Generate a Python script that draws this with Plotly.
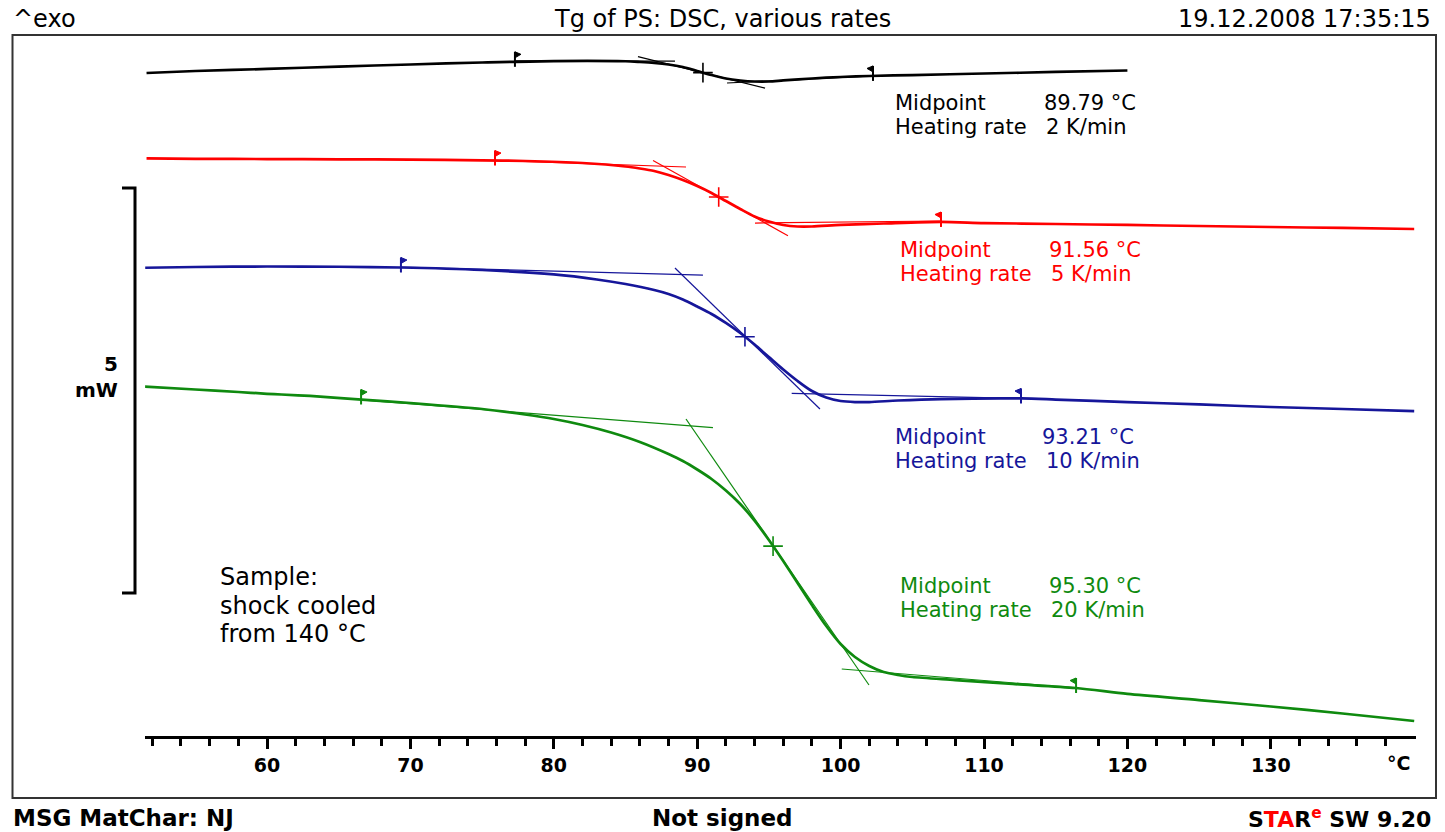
import numpy as np
import plotly.graph_objects as go

W, H = 1445, 832

# ---------------- data (temperature in °C, heat flow in mW, curves offset) ----------------
T_2K = [51.6, 55, 60, 65, 70, 75, 80, 85, 86, 87, 88, 89, 90, 91, 92, 93, 94, 95, 96, 98, 100,
        102, 105, 110, 115, 120]
Q_2K = [8.185, 8.210, 8.235, 8.265, 8.290, 8.315, 8.333, 8.330, 8.321, 8.309, 8.290, 8.259,
        8.210, 8.160, 8.117, 8.093, 8.080, 8.080, 8.093, 8.117, 8.136, 8.148, 8.160, 8.179,
        8.198, 8.216]

T_5K = [51.6, 55, 60, 65, 70, 75, 78, 82, 85, 86, 87, 88, 89, 90, 91, 92, 93, 94, 95, 96, 97,
        98, 100, 103, 107, 110, 115, 120, 125, 130, 135, 140]
Q_5K = [7.130, 7.126, 7.123, 7.120, 7.115, 7.107, 7.099, 7.074, 7.031, 7.006, 6.975, 6.926,
        6.864, 6.790, 6.704, 6.605, 6.506, 6.414, 6.352, 6.309, 6.290, 6.290, 6.309, 6.327,
        6.346, 6.333, 6.321, 6.309, 6.296, 6.284, 6.272, 6.259]

T_10K = [51.5, 55, 60, 65, 69.3, 75, 80, 83, 85, 87, 88, 89, 90, 91, 92, 93, 94, 95, 96, 97,
         98, 99, 100, 101, 102, 104, 107, 112.6, 115, 120, 125, 130, 135, 140]
Q_10K = [5.781, 5.790, 5.796, 5.793, 5.784, 5.753, 5.698, 5.636, 5.580, 5.506, 5.457, 5.389,
         5.302, 5.210, 5.099, 4.975, 4.833, 4.679, 4.525, 4.383, 4.259, 4.179, 4.136, 4.123,
         4.123, 4.142, 4.160, 4.167, 4.154, 4.123, 4.093, 4.062, 4.037, 4.012]

T_20K = [51.3, 55, 58, 60, 61, 63, 66.6, 70, 75, 78, 80, 82, 84, 86, 88, 89, 90, 91, 92, 93,
         94, 95, 96, 97, 98, 99, 100, 101, 102, 103, 104, 105, 108, 112, 116.4, 120, 125, 130,
         135, 140]
Q_20K = [4.315, 4.278, 4.247, 4.225, 4.216, 4.198, 4.154, 4.111, 4.037, 3.969, 3.914, 3.840,
         3.747, 3.630, 3.481, 3.395, 3.290, 3.173, 3.031, 2.864, 2.660, 2.420, 2.160, 1.889,
         1.617, 1.358, 1.136, 0.975, 0.864, 0.790, 0.753, 0.728, 0.691, 0.642, 0.593, 0.519,
         0.444, 0.364, 0.278, 0.185]

rate_labels = ["2 K/min", "5 K/min", "10 K/min", "20 K/min"]
midpoint_labels = ["89.79 °C", "91.56 °C", "93.21 °C", "95.30 °C"]

onset_T = [77.29, 75.90, 69.34, 66.56]
endset_T = [102.26, 107.0, 112.58, 116.42]
midmark_T = [90.4, 91.5, 93.33, 95.29]

tangent_T = [[85.87, 94.73], [86.92, 96.33], [88.45, 98.56], [89.22, 101.98]]
tangent_Q = [[8.388, 7.999], [7.104, 6.177], [5.778, 4.037], [3.914, 0.630]]
base1_T = [[77.29, 88.45], [75.90, 89.22], [69.34, 90.40], [66.56, 91.10]]
base1_Q = [[8.336, 8.333], [7.105, 7.025], [5.790, 5.691], [4.148, 3.806]]
base2_T = [[92.08, 102.26], [94.03, 107.0], [96.59, 112.58], [100.08, 116.42]]
base2_Q = [[8.062, 8.148], [6.333, 6.358], [4.231, 4.167], [0.827, 0.593]]

major_ticks = [60, 70, 80, 90, 100, 110, 120, 130]
minor_ticks = list(range(52, 140, 2))

# ---------------- styling ----------------
colors = ["#000000", "#ff0000", "#16169a", "#0f8a0f"]
curves = [(T_2K, Q_2K), (T_5K, Q_5K), (T_10K, Q_10K), (T_20K, Q_20K)]

# pixel geometry of the plot (layout only)
PX0, PX_PER_C = 267.0, 14.34          # pixel of 60 °C, pixels per °C
X_AXIS_PX, PX_PER_MW = 736.0, 81.0    # pixel row of the axis, pixels per mW
x_rng = [51.5, 140.1]
x_dom = [(PX0 + (x_rng[0] - 60) * PX_PER_C) / W, (PX0 + (x_rng[1] - 60) * PX_PER_C) / W]
y_rng = [0, X_AXIS_PX / PX_PER_MW]
y_dom = [(H - X_AXIS_PX) / H, 1]

FONT = "DejaVu Sans"

fig = go.Figure()

for i, (T, Q) in enumerate(curves):
    c = colors[i]
    # thin evaluation lines (baselines + inflection tangent)
    lx, ly = [], []
    for segT, segQ in ((base1_T[i], base1_Q[i]), (tangent_T[i], tangent_Q[i]), (base2_T[i], base2_Q[i])):
        lx += segT + [None]
        ly += segQ + [None]
    fig.add_trace(go.Scatter(x=lx, y=ly, mode="lines", line=dict(color=c, width=1.2),
                             hoverinfo="skip"))
    # the measured curve
    fig.add_trace(go.Scatter(x=T, y=Q, mode="lines",
                             line=dict(color=c, width=2.7, shape="spline", smoothing=0.8)))
    # midpoint marker
    ym = float(np.interp(midmark_T[i], T, Q))
    fig.add_trace(go.Scatter(x=[midmark_T[i]], y=[ym], mode="markers",
                             marker=dict(symbol="cross-thin", size=14,
                                         line=dict(color=c, width=1.6))))

shapes = []
for i, (T, Q) in enumerate(curves):
    c = colors[i]
    for tf, direction in ((onset_T[i], 1), (endset_T[i], -1)):
        yf = float(np.interp(tf, T, Q))
        common = dict(xref="x", yref="y", xsizemode="pixel", ysizemode="pixel",
                      xanchor=tf, yanchor=yf, layer="above")
        shapes.append(dict(type="path", path="M 0 -5 L 0 10",
                           line=dict(color=c, width=2), **common))
        shapes.append(dict(type="path",
                           path=f"M 0 10 L {6 * direction} 7.5 L 0 4 Z",
                           fillcolor=c, line=dict(color=c, width=1), **common))

# frame
shapes.append(dict(type="rect", xref="paper", yref="paper",
                   x0=12.5 / W, x1=1436 / W, y0=1 - 798 / H, y1=1 - 35 / H,
                   line=dict(color="#333333", width=2), fillcolor="rgba(0,0,0,0)"))
# 5 mW scale bracket
shapes.append(dict(type="path", xref="paper", yref="paper",
                   path=f"M {122 / W} {1 - 188 / H} L {135 / W} {1 - 188 / H} "
                        f"L {135 / W} {1 - 593 / H} L {122 / W} {1 - 593 / H}",
                   line=dict(color="black", width=3)))

annotations = []


def txt(text, px, py, size, color="black", anchor="left", bold=False):
    annotations.append(dict(text=text, xref="paper", yref="paper", x=px / W, y=1 - py / H,
                            xanchor=anchor, yanchor="middle", showarrow=False,
                            font=dict(family=FONT, size=size, color=color,
                                      weight="bold" if bold else "normal")))


# header / footer
txt("^exo", 11, 19, 24)
txt("Tg of PS: DSC, various rates", 722, 19, 24, anchor="center")
txt("19.12.2008 17:35:15", 1433, 19, 24, anchor="right")
txt("MSG MatChar: NJ", 11, 818, 23, bold=True)
txt("Not signed", 722, 818, 23, anchor="center", bold=True)
txt("S<span style='color:#ff0000'>TA</span>R<sup><span style='color:#ff0000'>e</span></sup> SW 9.20",
    1433, 818, 22, anchor="right", bold=True)

# evaluation results
res_pos = [(893, 1042, 103), (898, 1047, 250), (893, 1040, 437), (898, 1047, 586)]
for i in range(4):
    xl, xv, yl = res_pos[i]
    txt("Midpoint", xl, yl, 21, colors[i])
    txt(midpoint_labels[i], xv, yl, 21, colors[i])
    txt("Heating rate", xl, yl + 24, 21, colors[i])
    txt(rate_labels[i], xl + 151, yl + 24, 21, colors[i])

# sample note
txt("Sample:", 218, 577, 24)
txt("shock cooled", 218, 605.5, 24)
txt("from 140 °C", 218, 634, 24)

# scale label
txt("5", 120, 364, 20, anchor="right", bold=True)
txt("mW", 120, 390, 20, anchor="right", bold=True)

# axis unit
txt("°C", 1398, 763, 19, anchor="center", bold=True)

fig.update_layout(
    width=W, height=H, margin=dict(l=0, r=0, t=0, b=0),
    paper_bgcolor="white", plot_bgcolor="white", showlegend=False,
    shapes=shapes, annotations=annotations,
    xaxis=dict(domain=x_dom, range=x_rng, showgrid=False, zeroline=False,
               showline=True, linecolor="black", linewidth=3,
               ticks="outside", ticklen=10, tickwidth=2.5, tickcolor="black",
               tickvals=major_ticks, ticktext=[str(v) for v in major_ticks],
               tickfont=dict(family=FONT, size=19, color="black", weight="bold"),
               minor=dict(tickvals=minor_ticks, ticks="outside", ticklen=7,
                          tickwidth=2.5, tickcolor="black"),
               fixedrange=True),
    yaxis=dict(domain=y_dom, range=y_rng, visible=False, fixedrange=True),
)

fig.write_html("out.html")
